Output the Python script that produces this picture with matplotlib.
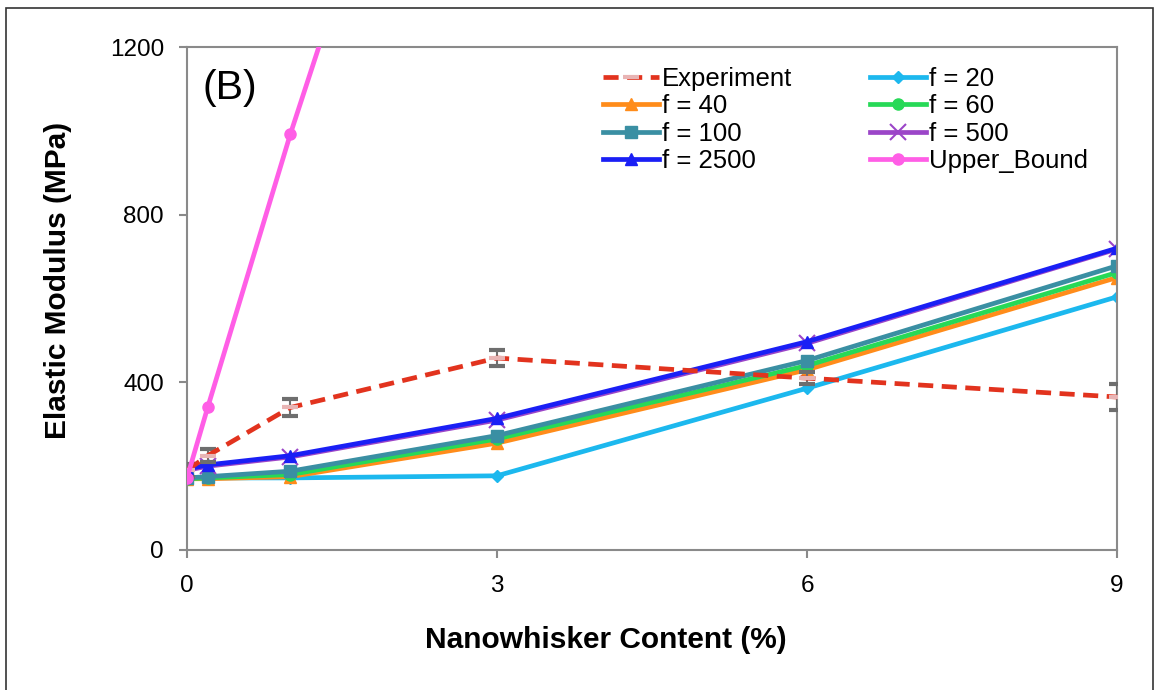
import matplotlib
matplotlib.use('Agg')
import matplotlib.pyplot as plt
from matplotlib.patches import Rectangle
from matplotlib.lines import Line2D
import numpy as np

plt.rcParams['font.family'] = ['Liberation Sans', 'DejaVu Sans']

# nanowhisker content (%)
content = [0, 0.2, 1, 3, 6, 9]

# measured modulus with error bars
experiment = [190, 225, 340, 458, 410, 365]
experiment_err = [15, 15, 20, 18, 15, 32]

# model predictions for different aspect ratios f
f20 = [172, 172, 172, 177, 386, 604]
f40 = [170, 170, 175, 255, 430, 650]
f60 = [170, 172, 180, 265, 440, 662]
f100 = [172, 175, 188, 273, 452, 678]
f500 = [190, 200, 222, 310, 493, 718]
f2500 = [193, 203, 225, 314, 497, 720]
upper_bound = [172, 340, 992, 2500, 4950, 7400]

fig = plt.figure(figsize=(11.55, 6.9), dpi=100)
ax = fig.add_axes([187 / 1155, 1 - 550 / 690, 930 / 1155, 503 / 690])

lw = 3.4
ms = 8
exp_style = dict(color='#e2331e', ls=(0, (3.2, 1.8)), lw=lw, marker='_',
                 ms=12, mew=3, mec='#e8b4b4')
ax.errorbar(content, experiment, yerr=experiment_err, ecolor='#6e6e6e',
            elinewidth=1.5, capsize=6, capthick=1.5, zorder=5, **exp_style)
h_exp = Line2D([], [], label='Experiment', **exp_style)
h20, = ax.plot(content, f20, color='#1cb8ee', lw=lw, marker='D', ms=6,
               label='f = 20')
h40, = ax.plot(content, f40, color='#ff8c1a', lw=lw, marker='^', ms=ms,
               label='f = 40')
h60, = ax.plot(content, f60, color='#27d957', lw=lw, marker='o', ms=ms,
               label='f = 60')
h100, = ax.plot(content, f100, color='#3a8fa3', lw=lw, marker='s', ms=ms,
                label='f = 100')
h500, = ax.plot(content, f500, color='#9b45c8', lw=lw, marker='x', ms=11,
                mew=1.5, label='f = 500')
h2500, = ax.plot(content, f2500, color='#1a1ff5', lw=lw, marker='^', ms=ms,
                 label='f = 2500')
hub, = ax.plot(content, upper_bound, color='#ff5ee6', lw=lw, marker='o',
               ms=ms, label='Upper_Bound', zorder=6)

ax.set_xlim(0, 9)
ax.set_ylim(0, 1200)
ax.set_xticks([0, 3, 6, 9])
ax.set_yticks([0, 400, 800, 1200])
for s in ax.spines.values():
    s.set_color('#8a8a8a')
    s.set_linewidth(1.5)
ax.tick_params(axis='both', direction='out', length=6, width=1.5,
               color='#8a8a8a', labelsize=17.5)
ax.tick_params(axis='y', pad=10.5)
ax.tick_params(axis='x', pad=12)

fig.text(58 / 1155, 1 - 280 / 690, 'Elastic Modulus (MPa)', rotation=90,
         ha='center', va='center', fontsize=21.5, fontweight='bold')
fig.text(606 / 1155, 1 - 640 / 690, 'Nanowhisker Content (%)',
         ha='center', va='center', fontsize=21.5, fontweight='bold')
ax.text(0.017, 0.918, '(B)', transform=ax.transAxes, fontsize=29.5,
        ha='left', va='center')

handles = [h_exp, h40, h100, h2500, h20, h60, h500, hub]
labels = [h.get_label() for h in handles]
ax.legend(handles, labels, ncol=2, loc='upper left',
          bbox_to_anchor=(0.4275, 0.996), frameon=False, fontsize=18.5,
          handlelength=2.2, handletextpad=0.12, labelspacing=0.13,
          columnspacing=3.0, borderaxespad=0.3)

# thin frame around the whole figure
fig.patches.append(Rectangle((6 / 1155, -0.01), 1147 / 1155, 1 - 8 / 690 + 0.01,
                             transform=fig.transFigure, fill=False,
                             edgecolor='#333333', lw=1.2))

fig.savefig('out.png', dpi=100)
